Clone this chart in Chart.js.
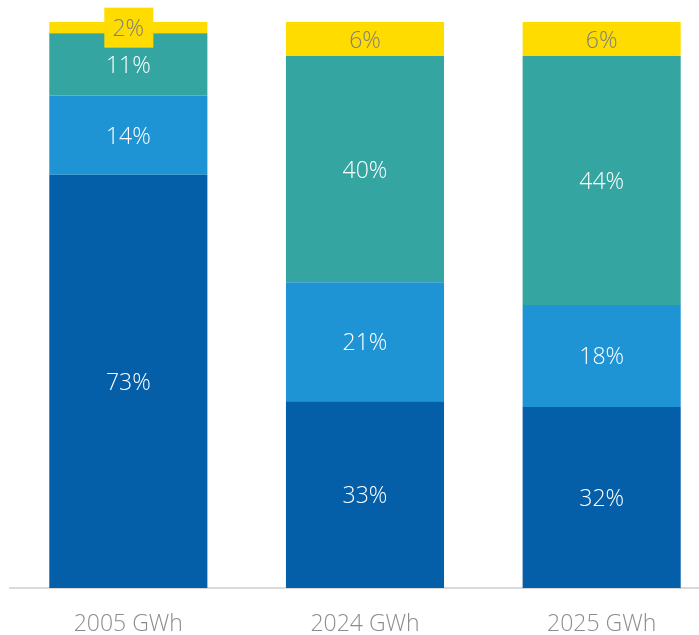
<!DOCTYPE html>
<html>
<head>
<meta charset="utf-8">
<script src="https://cdn.jsdelivr.net/npm/chart.js@4"></script>
<style>
  html, body { margin: 0; padding: 0; background: #fff; overflow: hidden; }
  #wrap { position: relative; width: 720px; height: 635px; }
</style>
</head>
<body>
<div id="wrap"><canvas id="chart"></canvas></div>
<script>
const categories = ['2005 GWh', '2024 GWh', '2025 GWh'];
const seriesA = [73, 33, 32];
const seriesB = [14, 21, 18];
const seriesC = [11, 40, 44];
const seriesD = [2, 6, 6];
const colors = ['#055FA8', '#1F94D5', '#35A5A2', '#FFDC00'];
const labelColors = ['#ffffff', '#ffffff', '#ffffff', '#7f7f7f'];

// draw the % labels inside each segment
const segmentLabels = {
    id: 'segmentLabels',
    afterDatasetsDraw(chart) {
        const ctx = chart.ctx;
        ctx.save();
        ctx.font = '300 23px "Open Sans", sans-serif';
        ctx.textAlign = 'center';
        ctx.textBaseline = 'middle';
        chart.data.datasets.forEach((ds, i) => {
            const meta = chart.getDatasetMeta(i);
            meta.data.forEach((bar, j) => {
                const v = ds.data[j];
                const text = v + '%';
                const y = (bar.y + bar.base) / 2;
                if (bar.base - bar.y < 26) {
                    // small segment: label sits on a box of the same colour
                    ctx.fillStyle = ds.backgroundColor;
                    ctx.fillRect(bar.x - 24, y - 20, 49, 40);
                }
                ctx.fillStyle = labelColors[i];
                ctx.fillText(text, bar.x, y + 2);
            });
        });
        ctx.restore();
    }
};

const ctx = document.getElementById('chart').getContext('2d');
const sets = [seriesA, seriesB, seriesC, seriesD].map((d, i) => ({
    data: d,
    backgroundColor: colors[i],
    borderWidth: 0,
    categoryPercentage: 1,
    barPercentage: 0.668
}));

new Chart(ctx, {
    type: 'bar',
    data: { labels: categories, datasets: sets },
    options: {
        responsive: true,
        maintainAspectRatio: false,
        animation: false,
        layout: { padding: { left: 10, top: 22, right: 0, bottom: 0 } },
        plugins: { legend: { display: false }, tooltip: { enabled: false } },
        scales: {
            x: {
                stacked: true,
                grid: { display: false, drawTicks: false },
                border: { color: '#d9d9d9', width: 2 },
                afterFit: scale => { scale.height = 47; },
                ticks: {
                    color: '#8c8c8c',
                    font: { family: '"Open Sans", sans-serif', size: 23, weight: '300' },
                    padding: 23
                }
            },
            y: {
                stacked: true,
                display: false,
                min: 0,
                max: 100
            }
        }
    },
    plugins: [segmentLabels]
});
</script>
</body>
</html>
